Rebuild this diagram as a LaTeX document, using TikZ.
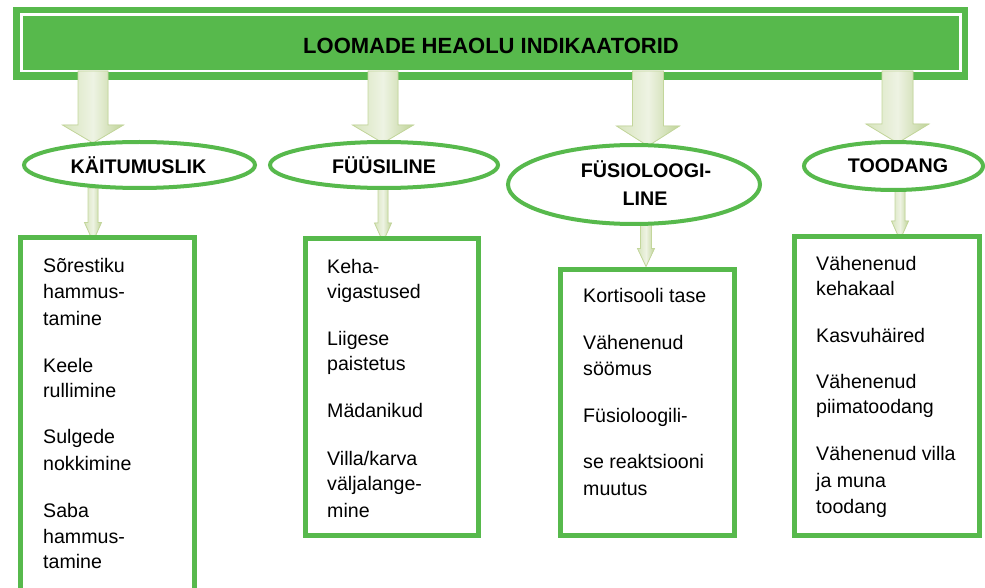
\documentclass[tikz,border=0pt]{standalone}
\usepackage{fontspec}
\setmainfont{Liberation Sans}
\usetikzlibrary{calc,shapes.geometric}
\pgfdeclarelayer{bottom}
\pgfdeclarelayer{back}
\pgfsetlayers{bottom,back,main}

\definecolor{leafgreen}{RGB}{87,185,76}
\definecolor{arrowlight}{HTML}{EEF3E3}
\definecolor{arrowmid}{HTML}{D7E4BD}
\definecolor{arrowdark}{HTML}{BFD398}
\definecolor{arrowedge}{HTML}{C3D69B}
\definecolor{arrowshade}{HTML}{8E9A66}

\tikzset{
  banner/.style={rectangle, fill=leafgreen, draw=none, outer sep=0pt, inner sep=0pt},
  bannerline/.style={rectangle, draw=white, line width=2.5pt, outer sep=0pt, inner sep=0pt},
  title/.style={font=\bfseries\fontsize{22}{26}\selectfont, anchor=base, inner sep=0pt},
  oval/.style={ellipse, draw=leafgreen, line width=4pt, fill=white, outer sep=0pt, inner sep=0pt},
  ovaltext/.style={font=\bfseries\fontsize{19.7}{24}\selectfont, anchor=base, inner sep=0pt},
  listbox/.style={rectangle, draw=leafgreen, line width=5pt, fill=white, outer sep=0pt, inner sep=0pt},
  itemtext/.style={font=\fontsize{19.6}{26}\selectfont, anchor=base west, inner sep=0pt},
  arrowbody/.style={left color=arrowmid, right color=arrowdark, middle color=arrowlight,
                    draw=arrowedge, line width=0.8pt, line join=miter},
  arrowshadow/.style={fill=arrowshade, opacity=0.7},
}

% block arrow: #1 style, #2 start point, #3 tip point,
% #4 half shaft width, #5 half head width, #6 head length
\newcommand\blockarrow[6]{%
  \path[#1] let \p1=#2, \p2=#3 in
    (\x2-#4pt,\y1) -- (\x2+#4pt,\y1) -- (\x2+#4pt,\y2+#6pt) -- (\x2+#5pt,\y2+#6pt)
    -- (\x2,\y2) -- (\x2-#5pt,\y2+#6pt) -- (\x2-#4pt,\y2+#6pt) -- cycle;}
\newcommand\shadedarrow[5]{%
  \blockarrow{arrowshadow,xshift=2.5pt,yshift=-2.5pt}{#1}{#2}{#3}{#4}{#5}%
  \blockarrow{arrowbody}{#1}{#2}{#3}{#4}{#5}}
\newcommand\entry[4]{\node[itemtext] (#1) at (#2,#3) {#4};}

\begin{document}
\begin{tikzpicture}[x=1pt,y=-1pt]
\useasboundingbox (0,0) rectangle (985,588);
\clip (0,0) rectangle (985,588);

% title banner
\begin{pgfonlayer}{bottom}
\node[banner, minimum width=955pt, minimum height=73pt] (banner) at (490.5,43.5) {};
\node[bannerline, minimum width=939pt, minimum height=56.5pt] (bannerline) at (491,42.75) {};
\end{pgfonlayer}
\node[title] (title) at (491,54) {LOOMADE HEAOLU INDIKAATORID};

% category ovals
\node[oval, minimum width=231pt, minimum height=46pt] (e1) at (139.5,165) {};
\node[oval, minimum width=228pt, minimum height=46pt] (e2) at (384,165) {};
\node[oval, minimum width=252pt, minimum height=79pt] (e3) at (634,184.5) {};
\node[oval, minimum width=179pt, minimum height=48pt] (e4) at (893.5,166) {};
\node[ovaltext] (t1) at (138.5,174) {KÄITUMUSLIK};
\node[ovaltext] (t2) at (384,174) {FÜÜSILINE};
\node[ovaltext] (t3a) at (646,178) {FÜSIOLOOGI-};
\node[ovaltext] (t3b) at (645,206) {LINE};
\node[ovaltext] (t4) at (898,173) {TOODANG};

% indicator lists
\node[listbox, minimum width=174pt, minimum height=362.5pt] (b1) at (107.5,418.75) {};
\node[listbox, minimum width=172.5pt, minimum height=297pt] (b2) at (391.75,387) {};
\node[listbox, minimum width=174pt, minimum height=266pt] (b3) at (647.5,402.5) {};
\node[listbox, minimum width=185.5pt, minimum height=299.5pt] (b4) at (886.75,385.75) {};

% arrow axes
\coordinate (ax1) at (93,0);
\coordinate (ax2) at (383,0);
\coordinate (ax3) at (648,0);
\coordinate (ax4) at (897.5,0);
\coordinate (sx1) at (93,0);
\coordinate (sx2) at (383,0);
\coordinate (sx3) at (646,0);
\coordinate (sx4) at (900,0);

\begin{pgfonlayer}{back}
% banner to ovals
\shadedarrow{(ax1 |- bannerline.south)}{($(ax1 |- e1.north)+(0,1)$)}{15}{30.5}{18}
\shadedarrow{(ax2 |- bannerline.south)}{($(ax2 |- e2.north)+(0,1)$)}{15}{30.5}{18}
\shadedarrow{(ax3 |- bannerline.south)}{($(ax3 |- e3.north)+(0,1)$)}{15.5}{31.5}{20}
\shadedarrow{(ax4 |- bannerline.south)}{($(ax4 |- e4.north)+(0,1)$)}{15.5}{31.5}{19}
% ovals to lists
\shadedarrow{(sx1 |- e1.south)}{($(sx1 |- b1.north)+(0,4)$)}{5}{8.5}{19}
\shadedarrow{(sx2 |- e2.south)}{($(sx2 |- b2.north)+(0,3.5)$)}{5}{8.5}{19}
\shadedarrow{(sx3 |- e3.south)}{($(sx3 |- b3.north)+(0,-3)$)}{5.5}{8.5}{18}
\shadedarrow{(sx4 |- e4.south)}{($(sx4 |- b4.north)+(0,4)$)}{5}{8.5}{19}
\end{pgfonlayer}

% list entries
\entry{k1}{43}{272}{Sõrestiku}
\entry{k2}{43}{298}{hammus-}
\entry{k3}{43}{325}{tamine}
\entry{k4}{43}{372}{Keele}
\entry{k5}{43}{397}{rullimine}
\entry{k6}{43}{443}{Sulgede}
\entry{k7}{43}{470}{nokkimine}
\entry{k8}{43}{517}{Saba}
\entry{k9}{43}{543}{hammus-}
\entry{k10}{43}{568}{tamine}

\entry{f1}{327}{273}{Keha-}
\entry{f2}{327}{298}{vigastused}
\entry{f3}{327}{345}{Liigese}
\entry{f4}{327}{370}{paistetus}
\entry{f5}{327}{417}{Mädanikud}
\entry{f6}{327}{465}{Villa/karva}
\entry{f7}{327}{490}{väljalange-}
\entry{f8}{327}{517}{mine}

\entry{s1}{583}{302}{Kortisooli tase}
\entry{s2}{583}{349}{Vähenenud}
\entry{s3}{583}{375}{söömus}
\entry{s4}{583}{422}{Füsioloogili-}
\entry{s5}{583}{468}{se reaktsiooni}
\entry{s6}{583}{495}{muutus}

\entry{p1}{816}{270}{Vähenenud}
\entry{p2}{816}{295}{kehakaal}
\entry{p3}{816}{342}{Kasvuhäired}
\entry{p4}{816}{388}{Vähenenud}
\entry{p5}{816}{413}{piimatoodang}
\entry{p6}{816}{460}{Vähenenud villa}
\entry{p7}{816}{487}{ja muna}
\entry{p8}{816}{513}{toodang}
\end{tikzpicture}
\end{document}
